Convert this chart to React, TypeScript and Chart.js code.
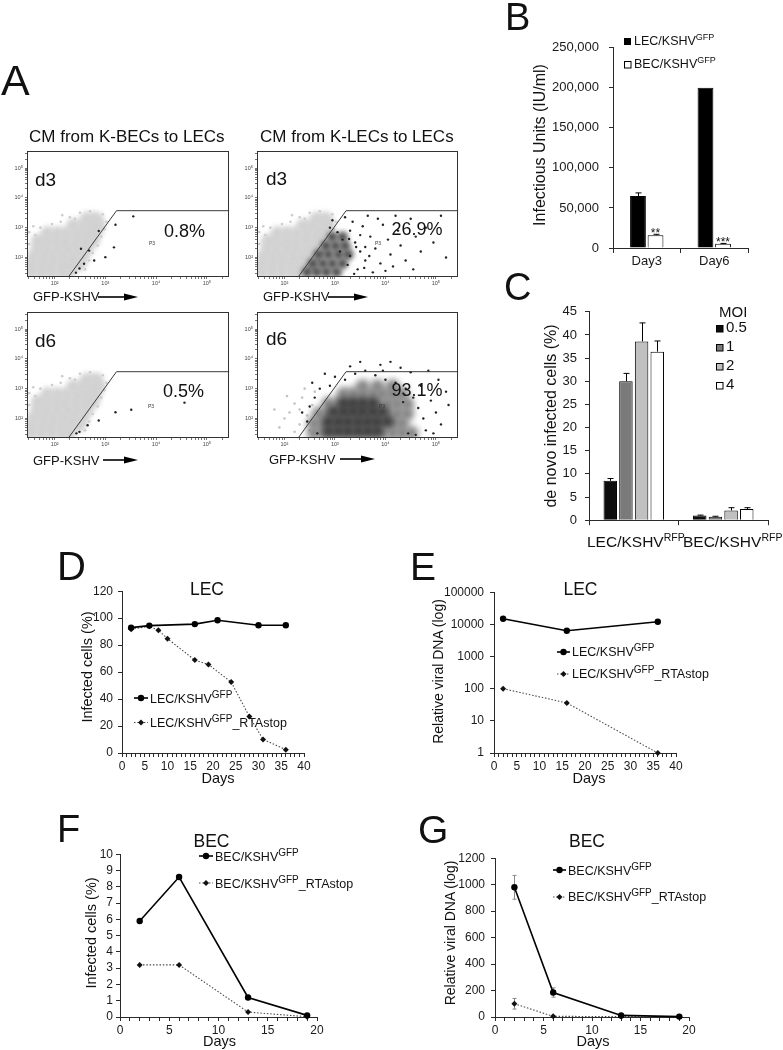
import React, { useEffect, useRef } from 'react';
import { Chart, registerables } from 'chart.js';

Chart.register(...registerables);

const FONT = '"Liberation Sans", Arial, Helvetica, sans-serif';
Chart.defaults.font.family = FONT;
Chart.defaults.color = '#1a1a1a';

// ---------------- Panel A: flow cytometry (log10 units, decades) ----------------
const flowGateX = [2.27, 3.22, 5.44, 5.44];
const flowGateY = [1.34, 3.57, 3.57, 1.34];
const flowPercent = ['0.8%', '26.9%', '0.5%', '93.1%'];
const flowDay = ['d3', 'd3', 'd6', 'd6'];

const grayCloud: number[][] = [
  [1.55, 1.51], [1.75, 1.51], [1.94, 1.51], [2.14, 1.51], [2.29, 1.51],
  [1.55, 1.77], [1.75, 1.77], [1.94, 1.77], [2.14, 1.77], [2.33, 1.77], [2.49, 1.77],
  [1.59, 2.03], [1.79, 2.03], [1.98, 2.03], [2.18, 2.03], [2.37, 2.03], [2.56, 2.03],
  [1.67, 2.3], [1.86, 2.3], [2.06, 2.3], [2.25, 2.3], [2.45, 2.3], [2.64, 2.3],
  [1.67, 2.56], [1.83, 2.56], [2.02, 2.56], [2.21, 2.56], [2.41, 2.56], [2.6, 2.56], [2.76, 2.56],
  [1.86, 2.82], [2.06, 2.82], [2.25, 2.82], [2.45, 2.82], [2.64, 2.82], [2.8, 2.82],
  [2.37, 3.08], [2.56, 3.08], [2.76, 3.08], [2.87, 3.08],
  [2.64, 3.31], [2.82, 3.31],
];
const grayEdge: number[][] = [
  [1.5, 2.85], [1.58, 3.05], [1.72, 3.0], [1.95, 3.12], [2.12, 3.2], [2.3, 3.35], [2.5, 3.5],
  [2.7, 3.55], [2.95, 3.45], [3.02, 3.2], [2.98, 2.95], [2.92, 2.7], [2.85, 2.4], [2.75, 2.15],
  [2.68, 1.9], [2.6, 1.6], [1.5, 2.45], [2.15, 3.42], [1.62, 2.75], [2.4, 3.3],
];
const flow1Dots: number[][] = [
  [2.87, 2.89], [2.68, 2.23], [2.58, 1.79], [2.49, 1.63], [2.42, 1.49], [3.17, 2.34],
  [3.55, 3.38], [2.52, 2.29], [3.2, 3.1], [3.0, 2.01], [2.78, 1.9],
];
const flow2Core: number[][] = [
  [2.45, 1.51], [2.64, 1.51], [2.83, 1.51], [3.03, 1.51],
  [2.56, 1.8], [2.76, 1.8], [2.95, 1.8], [3.15, 1.8],
  [2.68, 2.1], [2.87, 2.1], [3.07, 2.1], [3.26, 2.1],
  [2.82, 2.39], [3.01, 2.39], [3.2, 2.39],
  [2.95, 2.69], [3.15, 2.69],
];
const flow2Dots: number[][] = [
  [2.9, 3.0], [3.05, 2.85], [3.3, 2.9], [3.4, 2.5], [3.5, 2.2], [3.6, 1.9], [3.45, 1.6], [3.7, 2.7],
  [3.8, 2.3], [3.9, 1.8], [3.35, 3.2], [3.2, 3.35], [3.55, 3.05], [3.65, 3.4], [3.95, 3.1], [4.05, 2.6],
  [4.1, 2.1], [4.0, 1.55], [4.25, 2.9], [4.3, 2.4], [4.4, 1.9], [4.5, 3.3], [4.6, 2.7], [4.7, 2.2],
  [4.8, 3.0], [4.95, 2.5], [5.1, 3.4], [5.2, 2.0], [4.2, 3.4], [3.75, 1.5], [3.25, 1.75], [3.1, 2.2],
  [3.3, 2.05], [3.15, 2.6], [3.5, 2.75], [2.95, 3.25], [3.85, 3.3], [4.15, 1.7], [4.55, 1.6], [3.6, 2.35],
  [3.38, 1.45], [3.42, 2.35], [3.28, 2.62], [3.58, 1.65], [3.68, 2.05],
];
const flow3Dots: number[][] = [
  [2.43, 1.5], [2.65, 1.77], [3.2, 2.21], [3.51, 2.29], [4.56, 2.53], [2.49, 1.55], [2.87, 1.93],
];
const flow4Gray: number[][] = [
  [2.1, 2.2], [2.2, 2.5], [2.3, 1.8], [2.35, 2.7], [2.45, 2.1], [2.5, 1.6], [2.2, 1.55], [2.0, 2.0],
  [1.9, 1.7], [2.6, 2.9], [2.4, 3.0], [1.8, 2.3], [2.05, 2.75], [2.55, 2.45], [2.3, 2.3],
];
const flow4Halo: number[][] = [
  [2.58, 1.51], [2.78, 1.51], [2.97, 1.51], [3.17, 1.51], [3.36, 1.51], [3.55, 1.51], [3.75, 1.51], [3.94, 1.51], [4.14, 1.51], [4.33, 1.51], [4.52, 1.51],
  [2.58, 1.84], [2.78, 1.84], [2.97, 1.84], [3.17, 1.84], [3.36, 1.84], [3.55, 1.84], [3.75, 1.84], [3.94, 1.84], [4.14, 1.84], [4.33, 1.84],
  [2.68, 2.16], [2.87, 2.16], [3.07, 2.16], [3.26, 2.16], [3.46, 2.16], [3.65, 2.16], [3.84, 2.16], [4.04, 2.16], [4.23, 2.16], [4.43, 2.16],
  [2.87, 2.49], [3.07, 2.49], [3.26, 2.49], [3.46, 2.49], [3.65, 2.49], [3.84, 2.49], [4.04, 2.49], [4.23, 2.49], [4.43, 2.49],
  [3.17, 2.82], [3.36, 2.82], [3.55, 2.82], [3.75, 2.82], [3.94, 2.82], [4.14, 2.82], [4.33, 2.82],
  [3.55, 3.08], [3.84, 3.08], [4.14, 3.08],
];
const flow4Core: number[][] = [
  [2.87, 1.57], [3.07, 1.57], [3.26, 1.57], [3.46, 1.57], [3.65, 1.57], [3.84, 1.57],
  [2.87, 1.9], [3.07, 1.9], [3.26, 1.9], [3.46, 1.9], [3.65, 1.9], [3.84, 1.9], [4.04, 1.9],
  [2.97, 2.23], [3.17, 2.23], [3.36, 2.23], [3.55, 2.23], [3.75, 2.23], [3.94, 2.23],
  [3.17, 2.52], [3.36, 2.52], [3.55, 2.52], [3.75, 2.52],
];
const flow4Dots: number[][] = [
  [2.45, 1.9], [2.5, 2.4], [2.6, 2.7], [2.7, 3.0], [2.9, 3.1], [3.0, 3.4], [3.2, 3.3], [3.4, 3.5],
  [3.6, 3.6], [3.8, 3.45], [4.0, 3.3], [4.2, 3.2], [4.4, 3.0], [4.55, 2.7], [4.65, 2.35], [4.75, 2.0],
  [4.8, 1.6], [4.6, 1.45], [4.9, 2.6], [5.0, 2.2], [5.1, 1.8], [5.2, 2.9], [5.05, 3.3], [4.85, 3.6],
  [4.5, 3.55], [3.9, 3.8], [3.3, 3.75], [2.8, 3.5], [2.55, 3.2], [4.3, 3.7], [4.7, 3.1], [5.25, 2.45],
  [4.95, 1.5], [2.65, 1.5], [3.5, 3.9], [4.1, 3.9], [2.35, 2.2], [4.45, 1.5], [3.95, 3.6], [4.35, 2.55],
];

// ---------------- Panel B ----------------
const bDays = ['Day3', 'Day6'];
const bLecIU = [64800, 200000];
const bLecErr = [4000, 0];
const bBecIU = [16000, 5200];
const bBecErr = [1100, 500];
const bBecSig = ['**', '***'];

// ---------------- Panel C ----------------
const cGroups = ['LEC/KSHV', 'BEC/KSHV'];
const cMoiLabels = ['0.5', '1', '2', '4'];
const cMoi05 = [8.5, 1.0];
const cMoi05Err = [0.5, 0.1];
const cMoi1 = [30.0, 0.75];
const cMoi1Err = [1.7, 0.1];
const cMoi2 = [38.6, 2.1];
const cMoi2Err = [4.0, 0.6];
const cMoi4 = [36.4, 2.4];
const cMoi4Err = [2.3, 0.3];

// ---------------- Panel D ----------------
const dLecDays = [2, 6, 16, 21, 30, 36];
const dLecPct = [93, 94.5, 95.6, 98.5, 94.7, 94.7];
const dStopDays = [2, 6, 8, 10, 16, 19, 24, 28, 31, 36];
const dStopPct = [91.8, 94, 91, 84.8, 68.9, 65.6, 52.6, 27, 10.1, 2.5];

// ---------------- Panel E ----------------
const eDays = [2, 16, 36];
const eLecDNA = [15000, 6300, 12000];
const eStopDNA = [100, 36, 1];
const eTicks = [1, 10, 100, 1000, 10000, 100000];

// ---------------- Panels F / G ----------------
const fgDays = [2, 6, 13, 19];
const fBecPct = [5.9, 8.6, 1.2, 0.1];
const fStopPct = [3.2, 3.2, 0.3, 0.02];
const gBecDNA = [980, 185, 12, 3];
const gBecErr = [90, 35, 5, 0];
const gStopDNA = [100, 5, 3, 1];
const gStopErr = [40, 0, 0, 0];

// ---------------- plugins ----------------
function drawErrors(chart: any, behind: boolean) {
  const { ctx } = chart;
  chart.data.datasets.forEach((ds: any, i: number) => {
    if (!ds.errors || !!ds.errorBehind !== behind) return;
    const meta = chart.getDatasetMeta(i);
    const ys = chart.scales[meta.yAxisID];
    ctx.save();
    ctx.strokeStyle = ds.errorColor || '#000';
    ctx.lineWidth = 1;
    meta.data.forEach((el: any, j: number) => {
      const e = ds.errors[j];
      if (!e) return;
      const v = meta.controller.getParsed(j).y;
      const x = Math.round(el.x) + 0.5;
      const y1 = ys.getPixelForValue(v + e);
      const y0 = ds.errorPlusOnly ? ys.getPixelForValue(v) : ys.getPixelForValue(Math.max(v - e, ys.min));
      const cap = ds.errorCap ?? 3;
      ctx.beginPath();
      ctx.moveTo(x, y0);
      ctx.lineTo(x, y1);
      ctx.moveTo(x - cap, y1);
      ctx.lineTo(x + cap, y1);
      if (!ds.errorPlusOnly) {
        ctx.moveTo(x - cap, y0);
        ctx.lineTo(x + cap, y0);
      }
      ctx.stroke();
    });
    ctx.restore();
  });
}
const errorBarPlugin = {
  id: 'errorBars',
  beforeDatasetsDraw(chart: any) { drawErrors(chart, true); },
  afterDatasetsDraw(chart: any) { drawErrors(chart, false); },
};
const sigPlugin = {
  id: 'sigMarks',
  afterDatasetsDraw(chart: any) {
    const { ctx } = chart;
    chart.data.datasets.forEach((ds: any, i: number) => {
      if (!ds.sig) return;
      const meta = chart.getDatasetMeta(i);
      const ys = chart.scales[meta.yAxisID];
      ctx.save();
      ctx.fillStyle = '#111';
      ctx.font = `12px ${FONT}`;
      ctx.textAlign = 'center';
      ctx.textBaseline = 'alphabetic';
      meta.data.forEach((el: any, j: number) => {
        const v = meta.controller.getParsed(j).y + ((ds.errors && ds.errors[j]) || 0);
        ctx.fillText(ds.sig[j], el.x, ys.getPixelForValue(v) + 3);
      });
      ctx.restore();
    });
  },
};
// soft density look for cloud layers (canvas blur filter per dataset)
const softCloudPlugin = {
  id: 'softCloud',
  beforeDatasetDraw(chart: any, args: any) {
    const ds = chart.data.datasets[args.index];
    if (ds && ds.blur) chart.ctx.filter = `blur(${ds.blur}px)`;
  },
  afterDatasetDraw(chart: any) {
    chart.ctx.filter = 'none';
  },
};
const boxPlugin = {
  id: 'flowBox',
  afterDatasetsDraw(chart: any) {
    const { ctx, chartArea: a } = chart;
    ctx.save();
    ctx.filter = 'none';
    ctx.strokeStyle = '#333';
    ctx.lineWidth = 1;
    ctx.strokeRect(a.left + 0.5, a.top + 0.5, a.right - a.left - 1, a.bottom - a.top - 1);
    ctx.restore();
  },
};

// ---------------- chart host ----------------
type Area = { l: number; t: number; r: number; b: number };

function ChartBox({ area, yW, xH, pt, pr, make }: { area: Area; yW: number; xH: number; pt: number; pr: number; make: () => any }) {
  const ref = useRef<HTMLCanvasElement | null>(null);
  const w = area.r - area.l + yW + pr;
  const h = area.b - area.t + pt + xH;
  useEffect(() => {
    const cfg = make();
    const o = cfg.options;
    o.responsive = false;
    o.maintainAspectRatio = false;
    o.animation = false;
    o.devicePixelRatio = 1;
    o.events = [];
    o.layout = { padding: { top: pt, right: pr, left: 0, bottom: 0 } };
    o.plugins = { ...(o.plugins || {}), legend: { display: false }, tooltip: { enabled: false } };
    o.scales.x.afterFit = (s: any) => { s.height = xH; };
    o.scales.y.afterFit = (s: any) => { s.width = yW; };
    const chart = new Chart(ref.current as HTMLCanvasElement, cfg);
    return () => chart.destroy();
  }, []);
  return (
    <canvas
      ref={ref}
      width={w}
      height={h}
      style={{ position: 'absolute', left: area.l - yW, top: area.t - pt, width: w, height: h }}
    />
  );
}

const AX = '#2a2a2a';
const TXT = '#1a1a1a';

// ---------------- flow chart config ----------------
const FX_MIN = 1.456, FX_MAX = 5.437, FY_MIN = 1.344, FY_MAX = 5.574;
const supDigit: Record<number, string> = { 1: '¹', 2: '²', 3: '³', 4: '⁴', 5: '⁵' };
function logDecadeTicks(min: number, max: number) {
  const out: { value: number }[] = [];
  for (let d = 1; d <= 5; d++) {
    for (let k = 1; k <= 9; k++) {
      const v = d + Math.log10(k);
      if (v >= min && v <= max) out.push({ value: v });
    }
  }
  return out;
}
const decadeLabel = (v: number) => (Math.abs(v - Math.round(v)) < 1e-9 ? '10' + supDigit[Math.round(v)] : '');

type Layer = { pts: number[][]; r: number; color: string; blur?: number };
function makeFlow(layers: Layer[]) {
  return () => ({
    type: 'scatter',
    data: {
      datasets: [
        ...layers.map((L, i) => ({
          data: L.pts.map(([x, y]) => ({ x, y })),
          pointRadius: L.r,
          pointHoverRadius: L.r,
          backgroundColor: L.color,
          pointBackgroundColor: L.color,
          borderColor: 'rgba(0,0,0,0)',
          pointBorderColor: 'rgba(0,0,0,0)',
          borderWidth: 0,
          pointBorderWidth: 0,
          blur: L.blur,
          clip: 0,
          order: 10 - i,
        })),
        {
          data: flowGateX.map((x, i) => ({ x, y: flowGateY[i] })),
          showLine: true,
          borderColor: '#3a3a3a',
          borderWidth: 1,
          pointRadius: 0,
          clip: false,
          order: 0,
        },
      ],
    },
    options: {
      scales: {
        x: {
          type: 'linear', min: FX_MIN, max: FX_MAX,
          afterBuildTicks: (s: any) => { s.ticks = logDecadeTicks(FX_MIN, FX_MAX); },
          grid: { drawOnChartArea: false, tickLength: 2, color: '#777' },
          border: { display: false },
          ticks: { autoSkip: false, maxRotation: 0, padding: 1, font: { size: 5.5 }, color: '#444', callback: decadeLabel },
        },
        y: {
          type: 'linear', min: FY_MIN, max: FY_MAX,
          afterBuildTicks: (s: any) => { s.ticks = logDecadeTicks(FY_MIN, FY_MAX); },
          grid: { drawOnChartArea: false, tickLength: 2, color: '#777' },
          border: { display: false },
          ticks: { autoSkip: false, padding: 2, font: { size: 5.5 }, color: '#444', callback: decadeLabel },
        },
      },
    },
    plugins: [softCloudPlugin, boxPlugin],
  });
}

const GRAY = '#d2d2d2';
const GRAY_EDGE = '#cdcdcd';
const DOT = '#222';
const flowLayers: Layer[][] = [
  [{ pts: grayCloud, r: 7, color: GRAY, blur: 2.5 }, { pts: grayEdge, r: 1.3, color: GRAY_EDGE }, { pts: flow1Dots, r: 1.2, color: DOT }],
  [{ pts: grayCloud, r: 7, color: GRAY, blur: 2.5 }, { pts: grayEdge, r: 1.3, color: GRAY_EDGE }, { pts: flow2Core, r: 5.5, color: '#505050', blur: 2.5 }, { pts: flow2Dots, r: 1.2, color: DOT }],
  [{ pts: grayCloud, r: 7, color: GRAY, blur: 2.5 }, { pts: grayEdge, r: 1.3, color: GRAY_EDGE }, { pts: flow3Dots, r: 1.2, color: DOT }],
  [{ pts: flow4Gray, r: 1.3, color: '#c4c4c4' }, { pts: flow4Halo, r: 7, color: '#858585', blur: 3 }, { pts: flow4Core, r: 6, color: '#3a3a3a', blur: 3 }, { pts: flow4Dots, r: 1.2, color: DOT }],
];
const flowAreas: Area[] = [
  { l: 27, t: 148, r: 232, b: 277 },
  { l: 257, t: 148, r: 461, b: 277 },
  { l: 27, t: 309, r: 232, b: 438 },
  { l: 257, t: 309, r: 461, b: 438 },
];

// ---------------- bar charts ----------------
const makeB = () => ({
  type: 'bar',
  data: {
    labels: bDays,
    datasets: [
      { data: bLecIU, backgroundColor: '#000', borderColor: '#000', borderWidth: 1, errors: bLecErr, errorPlusOnly: true, errorCap: 3 },
      { data: bBecIU, backgroundColor: '#fff', borderColor: '#000', borderWidth: 1, errors: bBecErr, errorPlusOnly: true, errorCap: 3, sig: bBecSig },
    ],
  },
  options: {
    datasets: { bar: { categoryPercentage: 0.52, barPercentage: 0.9 } },
    scales: {
      x: {
        grid: { drawOnChartArea: false, tickLength: 5, color: AX, offset: true },
        border: { color: AX },
        ticks: { font: { size: 13 }, padding: 1, color: TXT },
      },
      y: {
        min: 0, max: 250000,
        grid: { drawOnChartArea: false, tickLength: 4, color: AX },
        border: { color: AX },
        ticks: { stepSize: 50000, font: { size: 13 }, padding: 10, color: TXT, callback: (v: number) => v.toLocaleString('en-US') },
      },
    },
  },
  plugins: [errorBarPlugin, sigPlugin],
});

const cFill = ['#0d0d0d', '#7a7a7a', '#c0c0c0', '#ffffff'];
const makeC = () => {
  const vals = [cMoi05, cMoi1, cMoi2, cMoi4];
  const errs = [cMoi05Err, cMoi1Err, cMoi2Err, cMoi4Err];
  return {
    type: 'bar',
    data: {
      labels: cGroups,
      datasets: vals.map((v, i) => ({
        label: cMoiLabels[i],
        data: v,
        backgroundColor: cFill[i],
        borderColor: '#000',
        borderWidth: 1,
        errors: errs[i],
        errorPlusOnly: true,
        errorCap: 3,
      })),
    },
    options: {
      datasets: { bar: { categoryPercentage: 0.7, barPercentage: 0.86 } },
      scales: {
        x: {
          grid: { drawOnChartArea: false, tickLength: 5, color: AX, offset: true },
          border: { color: AX },
          ticks: { callback: () => '', padding: 0 },
        },
        y: {
          min: 0, max: 45,
          grid: { drawOnChartArea: false, tickLength: 4, color: AX },
          border: { color: AX },
          ticks: { stepSize: 5, font: { size: 13 }, padding: 8, color: TXT },
        },
      },
    },
    plugins: [errorBarPlugin],
  };
};

// ---------------- line charts ----------------
const solidStyle = {
  borderColor: '#000', backgroundColor: '#000', borderWidth: 1.6, pointRadius: 3.2, pointStyle: 'circle',
  pointBorderWidth: 0, clip: false, order: 1,
};
const dottedStyle = {
  borderColor: '#4a4a4a', backgroundColor: '#111', borderWidth: 1.1, borderDash: [1.5, 1.8], pointRadius: 3,
  pointStyle: 'rectRot', pointBorderWidth: 0, clip: false, order: 2,
};
const xDaysAxis = (max: number) => ({
  type: 'linear', min: 0, max,
  grid: { drawOnChartArea: false, tickLength: 4, color: AX },
  border: { color: AX },
  ticks: {
    stepSize: 1, autoSkip: false, maxRotation: 0, padding: 2, font: { size: 12 }, color: TXT,
    callback: (v: number) => (v % 5 === 0 ? String(v) : ''),
  },
});
const yLin = (max: number, step: number, pad: number) => ({
  type: 'linear', min: 0, max,
  grid: { drawOnChartArea: false, tickLength: 4, color: AX },
  border: { color: AX },
  ticks: { stepSize: step, autoSkip: false, padding: pad, font: { size: 12 }, color: TXT, callback: (v: number) => String(v) },
});
function makeLine(xMax: number, sx: number[], sy: number[], dx: number[], dy: number[], yAxis: any, sErr?: number[], dErr?: number[]) {
  return () => ({
    type: 'line',
    data: {
      datasets: [
        { ...solidStyle, data: sx.map((x, i) => ({ x, y: sy[i] })), errors: sErr, errorBehind: true, errorColor: '#8a8a8a', errorCap: 2 },
        { ...dottedStyle, data: dx.map((x, i) => ({ x, y: dy[i] })), errors: dErr, errorBehind: true, errorColor: '#8a8a8a', errorCap: 2 },
      ],
    },
    options: { scales: { x: xDaysAxis(xMax), y: yAxis } },
    plugins: [errorBarPlugin],
  });
}
const yLogE = {
  type: 'logarithmic', min: 1, max: 100000,
  afterBuildTicks: (s: any) => { s.ticks = eTicks.map((v) => ({ value: v })); },
  grid: { drawOnChartArea: false, tickLength: 4, color: AX },
  border: { color: AX },
  ticks: { padding: 6, font: { size: 12 }, color: TXT, callback: (v: number) => String(v) },
};

// ---------------- overlay text ----------------
function Rich({ x, y, size, sup, supSize, main, tail, anchor = 'start', rot = false }: any) {
  const raise = size * 0.4;
  return (
    <text x={x} y={y} fontSize={size} textAnchor={anchor} transform={rot ? `rotate(-90 ${x} ${y})` : undefined}>
      {main}
      {sup ? <tspan fontSize={supSize ?? size * 0.75} dy={-raise}>{sup}</tspan> : null}
      {tail ? <tspan fontSize={size} dy={raise}>{tail}</tspan> : null}
    </text>
  );
}
const Arrow = ({ x1, x2, y }: any) => (
  <g>
    <line x1={x1} x2={x2 - 10} y1={y} y2={y} stroke="#000" strokeWidth={1.6} />
    <polygon points={`${x2 - 14},${y - 3.5} ${x2},${y} ${x2 - 14},${y + 3.5}`} fill="#000" />
  </g>
);
const SolidKey = ({ x1, x2, y }: any) => (
  <g>
    <line x1={x1} x2={x2} y1={y} y2={y} stroke="#000" strokeWidth={1.6} />
    <circle cx={(x1 + x2) / 2} cy={y} r={3.2} fill="#000" />
  </g>
);
const DotKey = ({ x1, x2, y }: any) => {
  const c = (x1 + x2) / 2;
  return (
    <g>
      <line x1={x1} x2={x2} y1={y} y2={y} stroke="#4a4a4a" strokeWidth={1.1} strokeDasharray="1.5 1.8" />
      <polygon points={`${c - 3},${y} ${c},${y - 3} ${c + 3},${y} ${c},${y + 3}`} fill="#111" />
    </g>
  );
};

function Overlay() {
  const flowText = [
    { dx: 35, dy: 186, px: 164, py: 236.5, p3x: 152, p3y: 245, gx: 33, gy: 301, a1: 98, a2: 138, ay: 297 },
    { dx: 266, dy: 185, px: 391.5, py: 235, p3x: 378, p3y: 245, gx: 263, gy: 301, a1: 328, a2: 368, ay: 297 },
    { dx: 35, dy: 347, px: 163, py: 396.5, p3x: 151, p3y: 408, gx: 33, gy: 465, a1: 103, a2: 138, ay: 460 },
    { dx: 266, dy: 345, px: 391.5, py: 396, p3x: 382, p3y: 408, gx: 269, gy: 464, a1: 340, a2: 375, ay: 459 },
  ];
  return (
    <svg width={783} height={1050} style={{ position: 'absolute', left: 0, top: 0, pointerEvents: 'none' }} fontFamily={FONT} fill="#111">
      {/* panel letters */}
      <text x={1} y={95} fontSize={43}>A</text>
      <text x={505} y={30} fontSize={38}>B</text>
      <text x={504} y={300} fontSize={38}>C</text>
      <text x={57} y={580} fontSize={40}>D</text>
      <text x={410} y={580} fontSize={39}>E</text>
      <text x={57} y={842} fontSize={38}>F</text>
      <text x={418} y={843} fontSize={39}>G</text>

      {/* Panel A */}
      <text x={29} y={142} fontSize={17}>CM from K-BECs to LECs</text>
      <text x={260} y={142} fontSize={17}>CM from K-LECs to LECs</text>
      {flowText.map((f, i) => (
        <g key={i}>
          <text x={f.dx} y={f.dy} fontSize={19}>{flowDay[i]}</text>
          <text x={f.px} y={f.py} fontSize={18}>{flowPercent[i]}</text>
          <text x={f.p3x} y={f.p3y} fontSize={5} textAnchor="middle" fill="#333">P3</text>
          <text x={f.gx} y={f.gy} fontSize={13}>GFP-KSHV</text>
          <Arrow x1={f.a1} x2={f.a2} y={f.ay} />
        </g>
      ))}

      {/* Panel B */}
      <text x={545} y={145} fontSize={16} textAnchor="middle" transform="rotate(-90 545 145)">Infectious Units (IU/ml)</text>
      <rect x={624} y={38} width={7} height={7} fill="#000" />
      <Rich x={634} y={45} size={12.5} supSize={9} main="LEC/KSHV" sup="GFP" />
      <rect x={624.5} y={61.5} width={6.5} height={6.5} fill="#fff" stroke="#000" strokeWidth={1} />
      <Rich x={634} y={68} size={12.5} supSize={9} main="BEC/KSHV" sup="GFP" />

      {/* Panel C */}
      <text x={556} y={416} fontSize={16} textAnchor="middle" transform="rotate(-90 556 416)">de novo infected cells (%)</text>
      <text x={719} y={317} fontSize={15}>MOI</text>
      {cMoiLabels.map((m, i) => (
        <g key={m}>
          <rect x={716.5} y={325.5 + i * 19} width={6.5} height={6.5} fill={cFill[i]} stroke="#000" strokeWidth={1} />
          <text x={726} y={332 + i * 19} fontSize={15}>{m}</text>
        </g>
      ))}
      <Rich x={587} y={547} size={15.5} supSize={10.5} main={cGroups[0]} sup="RFP" />
      <Rich x={683} y={547} size={15.5} supSize={10.5} main={cGroups[1]} sup="RFP" />

      {/* Panel D */}
      <text x={207} y={595} fontSize={17.5} textAnchor="middle">LEC</text>
      <text x={218} y={783} fontSize={14.5} textAnchor="middle">Days</text>
      <text x={92} y={667} fontSize={14.5} textAnchor="middle" transform="rotate(-90 92 667)">Infected cells (%)</text>
      <SolidKey x1={134} x2={148} y={698} />
      <Rich x={150} y={703} size={12.5} supSize={10} main="LEC/KSHV" sup="GFP" />
      <DotKey x1={134} x2={148} y={722.5} />
      <Rich x={150} y={727} size={12.5} supSize={10} main="LEC/KSHV" sup="GFP" tail="_RTAstop" />

      {/* Panel E */}
      <text x={580.5} y={595} fontSize={17.5} textAnchor="middle">LEC</text>
      <text x={589} y={783} fontSize={14.5} textAnchor="middle">Days</text>
      <text x={443} y={671.5} fontSize={14} textAnchor="middle" transform="rotate(-90 443 671.5)">Relative viral DNA (log)</text>
      <SolidKey x1={557} x2={570} y={652} />
      <Rich x={572} y={656} size={12.5} supSize={10} main="LEC/KSHV" sup="GFP" />
      <DotKey x1={557} x2={570} y={674} />
      <Rich x={572} y={678} size={12.5} supSize={10} main="LEC/KSHV" sup="GFP" tail="_RTAstop" />

      {/* Panel F */}
      <text x={211.5} y={846.5} fontSize={17.5} textAnchor="middle">BEC</text>
      <text x={219.5} y={1046} fontSize={14.5} textAnchor="middle">Days</text>
      <text x={96} y={933} fontSize={14.5} textAnchor="middle" transform="rotate(-90 96 933)">Infected cells (%)</text>
      <SolidKey x1={199} x2={213} y={856} />
      <Rich x={215} y={861} size={12.5} supSize={10} main="BEC/KSHV" sup="GFP" />
      <DotKey x1={199} x2={213} y={883} />
      <Rich x={215} y={888} size={12.5} supSize={10} main="BEC/KSHV" sup="GFP" tail="_RTAstop" />

      {/* Panel G */}
      <text x={587} y={846.5} fontSize={17.5} textAnchor="middle">BEC</text>
      <text x={593} y={1046} fontSize={14.5} textAnchor="middle">Days</text>
      <text x={455} y={933} fontSize={14} textAnchor="middle" transform="rotate(-90 455 933)">Relative viral DNA (log)</text>
      <SolidKey x1={553} x2={566} y={870} />
      <Rich x={568} y={875} size={12.5} supSize={10} main="BEC/KSHV" sup="GFP" />
      <DotKey x1={553} x2={566} y={897} />
      <Rich x={568} y={901} size={12.5} supSize={10} main="BEC/KSHV" sup="GFP" tail="_RTAstop" />
    </svg>
  );
}

export default function App() {
  return (
    <div style={{ position: 'absolute', left: 0, top: 0, width: 783, height: 1050, background: '#fff', overflow: 'hidden' }}>
      {flowAreas.map((a, i) => (
        <ChartBox key={i} area={a} yW={22} xH={12} pt={4} pr={4} make={makeFlow(flowLayers[i])} />
      ))}
      <ChartBox area={{ l: 613, t: 40, r: 748, b: 248 }} yW={83} xH={30} pt={10} pr={6} make={makeB} />
      <ChartBox area={{ l: 589, t: 306, r: 768, b: 524 }} yW={60} xH={12} pt={10} pr={6} make={makeC} />
      <ChartBox area={{ l: 122, t: 587, r: 304, b: 753 }} yW={40} xH={26} pt={8} pr={10}
        make={makeLine(40, dLecDays, dLecPct, dStopDays, dStopPct, yLin(120, 20, 5))} />
      <ChartBox area={{ l: 494, t: 587, r: 676, b: 753 }} yW={58} xH={26} pt={8} pr={10}
        make={makeLine(40, eDays, eLecDNA, eDays, eStopDNA, yLogE)} />
      <ChartBox area={{ l: 120, t: 852, r: 317, b: 1017 }} yW={30} xH={22} pt={8} pr={10}
        make={makeLine(20, fgDays, fBecPct, fgDays, fStopPct, yLin(10, 1, 3))} />
      <ChartBox area={{ l: 495, t: 853, r: 689, b: 1017 }} yW={48} xH={22} pt={8} pr={10}
        make={makeLine(20, fgDays, gBecDNA, fgDays, gStopDNA, yLin(1200, 200, 6), gBecErr, gStopErr)} />
      <Overlay />
    </div>
  );
}
